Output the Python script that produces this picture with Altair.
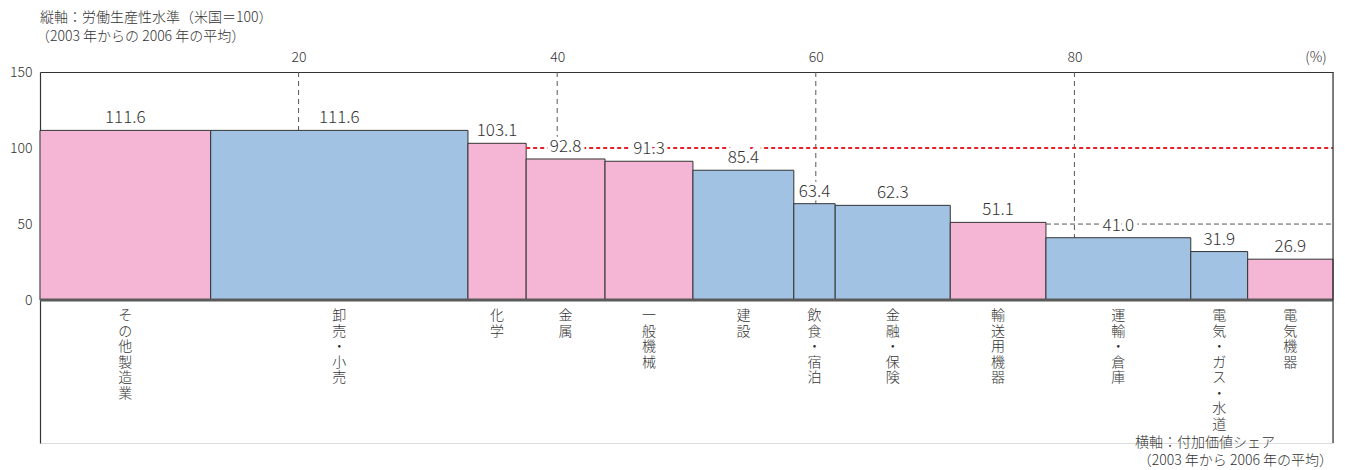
import altair as alt
import pandas as pd

categories = ["その他製造業", "卸売・小売", "化学", "金属", "一般機械", "建設", "飲食・宿泊",
              "金融・保険", "輸送用機器", "運輸・倉庫", "電気・ガス・水道", "電気機器"]
shares = [13.2, 19.9, 4.5, 6.1, 6.8, 7.8, 3.2, 8.9, 7.4, 11.2, 4.4, 6.6]
values = [111.6, 111.6, 103.1, 92.8, 91.3, 85.4, 63.4, 62.3, 51.1, 41.0, 31.9, 26.9]
types = ["製造業", "非製造業", "製造業", "製造業", "製造業", "非製造業", "非製造業",
         "非製造業", "製造業", "非製造業", "非製造業", "製造業"]

grid_x = [20, 40, 60, 80]
grid_end = [111.6, 100, 63.4, 41.0]
x_ticks = [20, 40, 60, 80]
y_ticks = [0, 50, 100, 150]

FONT = "Noto Sans CJK JP"
FW = 300
TXT = "#333333"

df = pd.DataFrame({"cat": categories, "share": shares, "value": values, "type": types})
df["end"] = df["share"].cumsum()
df["start"] = df["end"] - df["share"]
df["mid"] = (df["start"] + df["end"]) / 2
df["chars"] = ["\n".join(list(c)) for c in categories]
df["label"] = [f"{v:.1f}" for v in values]
df["zero"] = 0.0

xs = alt.Scale(domain=[0, 100], nice=False, zero=False)
ys = alt.Scale(domain=[-94, 150], nice=False, zero=False)

base = alt.Chart(df)

grid = alt.Chart(pd.DataFrame({"x": grid_x, "y": [150] * 4, "y2": grid_end})).mark_rule(
    color="#555555", strokeDash=[5, 4], strokeWidth=1
).encode(
    x=alt.X("x:Q", scale=xs,
            axis=alt.Axis(orient="top", values=x_ticks, ticks=False, grid=False, title=None,
                          domainColor="#333333", domainWidth=1.2, labelFont=FONT, labelFontSize=14,
                          labelFontWeight=FW, labelColor=TXT, labelPadding=8)),
    y=alt.Y("y:Q", scale=ys,
            axis=alt.Axis(values=y_ticks, ticks=False, grid=False, title=None,
                          domainColor="#333333", domainWidth=1.2, labelFont=FONT, labelFontSize=14,
                          labelFontWeight=FW, labelColor=TXT, labelPadding=8)),
    y2="y2:Q",
)

bars = base.mark_bar(stroke="#333333", strokeWidth=1).encode(
    x=alt.X("start:Q", scale=xs),
    x2="end:Q",
    y=alt.Y("value:Q", scale=ys),
    y2="zero:Q",
    color=alt.Color("type:N", scale=alt.Scale(domain=["製造業", "非製造業"],
                                               range=["#F4B6D4", "#A2C2E3"]), legend=None),
)

lines = pd.DataFrame({"x": [0.0, df["end"][2], df["end"][8]], "x2": [100, 100, 100],
                      "y": [0, 100, 50], "kind": ["base", "red", "gray"]})

baseline = alt.Chart(lines.iloc[[0]]).mark_rule(color="#5a5a5a", strokeWidth=3).encode(
    x=alt.X("x:Q", scale=xs), x2="x2:Q", y=alt.Y("y:Q", scale=ys)
)
red_line = alt.Chart(lines.iloc[[1]]).mark_rule(
    color="#E8202A", strokeDash=[4, 3], strokeWidth=2
).encode(x=alt.X("x:Q", scale=xs), x2="x2:Q", y=alt.Y("y:Q", scale=ys))
gray_line = alt.Chart(lines.iloc[[2]]).mark_rule(
    color="#555555", strokeDash=[5, 3], strokeWidth=1
).encode(x=alt.X("x:Q", scale=xs), x2="x2:Q", y=alt.Y("y:Q", scale=ys))

right_line = alt.Chart(pd.DataFrame({"x": [100], "y": [-94], "y2": [150]})).mark_rule(
    color="#333333", strokeWidth=1.2
).encode(x=alt.X("x:Q", scale=xs), y=alt.Y("y:Q", scale=ys), y2="y2:Q")

halo = base.mark_text(font=FONT, fontSize=17, fontWeight=FW, baseline="bottom", dy=-3).encode(
    x=alt.X("mid:Q", scale=xs), y=alt.Y("value:Q", scale=ys), text="label:N",
    fill=alt.value("white"), stroke=alt.value("white"), strokeWidth=alt.value(8),
)
labels = base.mark_text(font=FONT, fontSize=17, fontWeight=FW, baseline="bottom", dy=-3,
                        color=TXT).encode(
    x=alt.X("mid:Q", scale=xs), y=alt.Y("value:Q", scale=ys), text="label:N"
)

cat_labels = base.mark_text(font=FONT, fontSize=14, fontWeight=FW, baseline="top", dy=9,
                            lineHeight=15.5, lineBreak="\n", color=TXT).encode(
    x=alt.X("mid:Q", scale=xs), y=alt.Y("zero:Q", scale=ys), text="chars:N"
)

notes = pd.DataFrame({
    "t": ["縦軸：労働生産性水準（米国＝100）", "（2003 年からの 2006 年の平均）", "(%)",
          "横軸：付加価値シェア", "（2003 年から 2006 年の平均）"],
})


def note(i, x, y, align):
    return alt.Chart(notes.iloc[[i]]).mark_text(font=FONT, fontSize=14, fontWeight=FW, color=TXT,
                                                align=align, baseline="middle").encode(
        x=alt.value(x), y=alt.value(y), text="t:N")


texts = (note(0, 0, -54, "left") + note(1, -4, -35, "left") + note(2, 1276, -14, "center")
         + note(3, 1165, 371, "center") + note(4, 1293, 389, "right"))

chart = alt.layer(grid, bars, baseline, red_line, gray_line, right_line, halo, labels,
                  cat_labels, texts).properties(
    width=1293, height=371,
    padding={"left": 40, "top": 72, "right": 12, "bottom": 27},
    autosize=alt.AutoSizeParams(type="none"),
).configure_view(stroke=None).configure(background="white")

chart.save("out.html", embed_options={"renderer": "svg", "actions": False})
